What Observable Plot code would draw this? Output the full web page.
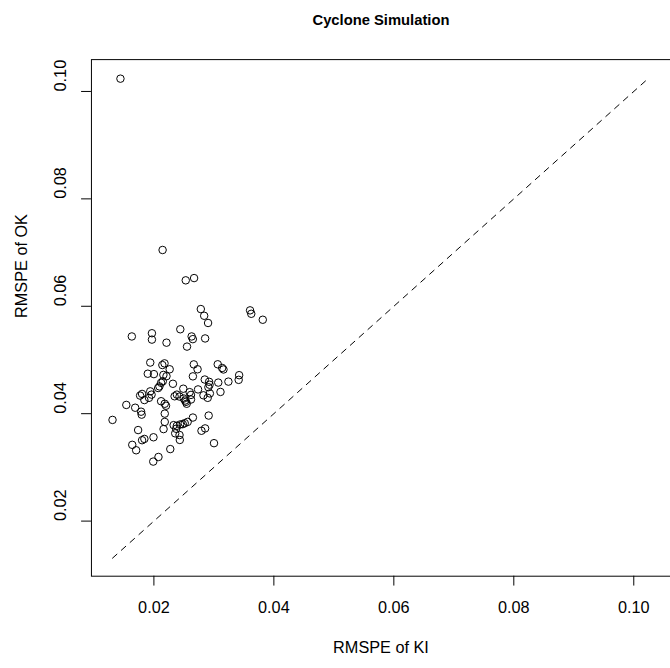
<!DOCTYPE html>
<html>
<head>
<meta charset="utf-8">
<script src="https://cdn.jsdelivr.net/npm/d3@7"></script>
<script src="https://cdn.jsdelivr.net/npm/@observablehq/plot@0.6"></script>
<style>
html, body { margin: 0; padding: 0; background: #fff; overflow: hidden; width: 670px; height: 668px; }
#chart svg { display: block; }
</style>
</head>
<body>
<div id="chart"></div>
<script>
// RMSPE of KI (x) and RMSPE of OK (y) per simulation
const ki = [
  0.01442, 0.02145, 0.02531, 0.02670, 0.02782, 0.02838, 0.02903, 0.03603, 0.03623, 0.03815,
  0.01632, 0.01967, 0.01967, 0.02210, 0.02440, 0.02629, 0.02649, 0.02854, 0.02552,
  0.01939, 0.02141, 0.02177, 0.02263, 0.01898, 0.02000, 0.02158, 0.02210, 0.02665, 0.02728,
  0.02650, 0.03064, 0.03138, 0.03160, 0.03421, 0.03413, 0.03242, 0.03073, 0.02848, 0.02920,
  0.02928, 0.02908, 0.03110, 0.02933, 0.02897, 0.02826, 0.02736, 0.02490, 0.02596, 0.02618,
  0.02535, 0.02498, 0.02427, 0.02383, 0.02148, 0.02092, 0.02071, 0.02317, 0.01939, 0.01961,
  0.01918, 0.01841, 0.01803, 0.01770, 0.02120, 0.02181, 0.02202, 0.02547, 0.02519, 0.01688,
  0.01540, 0.01786, 0.01796, 0.02181, 0.02181, 0.01310, 0.02329, 0.02383, 0.02437, 0.02481,
  0.02514, 0.02563, 0.02650, 0.02913, 0.02371, 0.01737, 0.02161, 0.02427, 0.02432, 0.02793,
  0.02854, 0.03002, 0.01993, 0.01841, 0.01803, 0.01639, 0.01704, 0.02273, 0.02076, 0.01989,
  0.02618, 0.02345, 0.02120, 0.02355
];
const ok = [
  0.10238, 0.07048, 0.06483, 0.06525, 0.05948, 0.05823, 0.05689, 0.05924, 0.05860, 0.05749,
  0.05438, 0.05498, 0.05379, 0.05322, 0.05572, 0.05438, 0.05388, 0.05401, 0.05249,
  0.04952, 0.04906, 0.04937, 0.04827, 0.04744, 0.04737, 0.04722, 0.04698, 0.04918, 0.04827,
  0.04695, 0.04920, 0.04851, 0.04823, 0.04717, 0.04630, 0.04597, 0.04579, 0.04636, 0.04594,
  0.04539, 0.04493, 0.04405, 0.04377, 0.04295, 0.04342, 0.04452, 0.04465, 0.04401, 0.04350,
  0.04221, 0.04282, 0.04319, 0.04355, 0.04603, 0.04508, 0.04478, 0.04557, 0.04416, 0.04355,
  0.04295, 0.04254, 0.04368, 0.04337, 0.04232, 0.04185, 0.04148, 0.04185, 0.04245, 0.04111,
  0.04163, 0.04037, 0.03982, 0.04001, 0.03847, 0.03884, 0.03787, 0.03774, 0.03799, 0.03805,
  0.03823, 0.03847, 0.03928, 0.03965, 0.03719, 0.03695, 0.03713, 0.03603, 0.03511, 0.03682,
  0.03726, 0.03451, 0.03561, 0.03530, 0.03506, 0.03420, 0.03319, 0.03341, 0.03194, 0.03108,
  0.04264, 0.04324, 0.04575, 0.03634
];
// reference line y = x across the data range
const diagRange = [0.0131, 0.1024];
const xTicks = [0.02, 0.04, 0.06, 0.08, 0.10];
const yTicks = [0.02, 0.04, 0.06, 0.08, 0.10];
const titleText = "Cyclone Simulation";
const xLabel = "RMSPE of KI";
const yLabel = "RMSPE of OK";

const points = ki.map((k, i) => ({ki: k, ok: ok[i]}));
const diag = diagRange.map(v => ({ki: v, ok: v}));
const fmt = d3.format(".2f");
const FONT = "'Liberation Sans', Arial, Helvetica, sans-serif";

const chart = Plot.plot({
  width: 680,
  height: 668,
  marginLeft: 92.3,
  marginRight: 0,
  marginTop: 60,
  marginBottom: 83.7,
  style: {fontFamily: FONT, color: "black", background: "white", overflow: "visible"},
  x: {domain: [0.009586, 0.10612], label: null},
  y: {domain: [0.00974, 0.10593], label: null},
  marks: [
    Plot.frame({stroke: "black", strokeWidth: 1}),
    Plot.axisX({ticks: xTicks, tickSize: 10, tickFormat: () => "", label: null}),
    Plot.axisY({ticks: yTicks, tickSize: 10, tickFormat: () => "", label: null}),
    Plot.text(xTicks, {x: d => d, frameAnchor: "bottom", dy: 32.4, lineAnchor: "middle", text: d => fmt(d), fontSize: 16.5, fill: "black"}),
    Plot.text(yTicks, {y: d => d, frameAnchor: "left", dx: -30.6, rotate: -90, lineAnchor: "middle", text: d => fmt(d), fontSize: 16.5, fill: "black"}),
    Plot.text([xLabel], {frameAnchor: "bottom", dy: 72.4, lineAnchor: "middle", text: d => d, fontSize: 16.5, fill: "black"}),
    Plot.text([yLabel], {frameAnchor: "left", dx: -70.3, rotate: -90, lineAnchor: "middle", text: d => d, fontSize: 16.5, fill: "black"}),
    Plot.text([titleText], {frameAnchor: "top", dy: -40, lineAnchor: "middle", text: d => d, fontSize: 15, fontWeight: "bold", fill: "black"}),
    Plot.line(diag, {x: "ki", y: "ok", stroke: "black", strokeWidth: 1, strokeDasharray: "6,6"}),
    Plot.dot(points, {x: "ki", y: "ok", r: 3.8, stroke: "black", strokeWidth: 1, fill: "none"})
  ]
});
document.getElementById("chart").appendChild(chart);
</script>
</body>
</html>
